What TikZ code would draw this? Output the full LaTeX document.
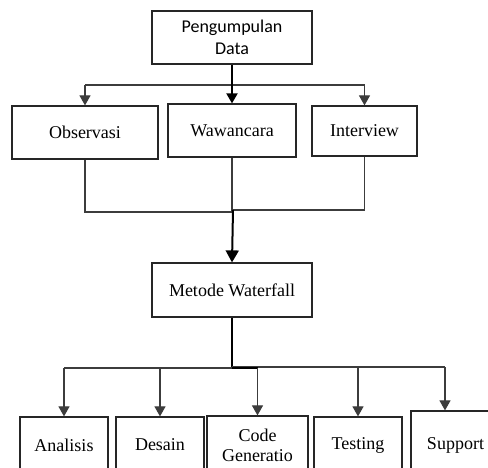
\documentclass[tikz,border=0pt]{standalone}
\usepackage{fontspec}
\setmainfont{Liberation Serif}
\newfontfamily\calib{Carlito}
\usetikzlibrary{arrows.meta}
\definecolor{linegray}{HTML}{3C3C3C}
\tikzset{
  boxnode/.style={draw=black!85, line width=1.2pt, rectangle, inner sep=0pt, align=center,
    font=\fontsize{18}{20}\selectfont},
  thinline/.style={draw=linegray, line width=1.1pt},
  thickline/.style={draw=black, line width=2pt},
  tip/.style={-{Triangle[width=11pt,length=10pt]}},
  bigtip/.style={-{Triangle[width=13pt,length=12pt]}}
}
\begin{document}
\begin{tikzpicture}[x=1pt,y=-1pt]
\useasboundingbox (0,0) rectangle (488,468);
\clip (0,0) rectangle (488,468);
\fill[white] (0,0) rectangle (488,468);

% top box
\node[boxnode, minimum width=160pt, minimum height=53pt,
      font=\calib\fontsize{18}{22}\selectfont] (pd) at (232,37.5) {Pengumpulan\\Data};

% data collection methods
\node[boxnode, minimum width=146pt, minimum height=53pt] (obs) at (85,132.5) {Observasi};
\node[boxnode, minimum width=128pt, minimum height=53pt] (waw) at (232,130.5) {Wawancara};
\node[boxnode, minimum width=105pt, minimum height=50pt] (int) at (364.5,131) {Interview};

% waterfall box
\node[boxnode, minimum width=160pt, minimum height=54pt] (met) at (232,290) {Metode Waterfall};

% waterfall phases (boxes run past the lower edge)
\node[boxnode, minimum width=88pt, minimum height=56pt] (ana) at (64,445) {Analisis};
\node[boxnode, minimum width=88pt, minimum height=56pt] (des) at (160,445) {Desain};
\node[boxnode, minimum width=101pt, minimum height=58pt] (cod) at (257.5,445) {Code\\Generatio};
\node[boxnode, minimum width=88pt, minimum height=56pt] (tes) at (358,445) {Testing};
\node[boxnode, minimum width=89pt, minimum height=68pt] (sup) at (455.5,445) {Support};

% split from the top box
\coordinate (j1) at (232,85);
\draw[thinline] (obs.north |- j1) -- (int.north |- j1);
\draw[thickline, tip] (pd.south) -- (waw.north);
\draw[thinline, tip] (obs.north |- j1) -- (obs.north);
\draw[thinline, tip] (int.north |- j1) -- (int.north);

% merge into the waterfall box
\coordinate (j2) at (232,212);
\coordinate (j2r) at (233,210);
\draw[thinline] (obs.south) |- (j2);
\draw[thinline] (waw.south) -- (waw.south |- j2);
\draw[thinline] (int.south) |- (j2r);
\draw[thickline, bigtip] (j2r) -- (met.north);

% split into the phases
\coordinate (j3) at (232,368);
\coordinate (j3r) at (232,367);
\coordinate (supx) at (445,367);
\draw[thickline] (met.south) -- (j3);
\draw[thinline] (j3) -- (ana.north |- j3);
\draw[thinline] (j3r) -- (supx);
\draw[thickline] (j3) -- (cod.north |- j3);
\draw[thinline, tip] (ana.north |- j3) -- (ana.north);
\draw[thinline, tip] (des.north |- j3) -- (des.north);
\draw[thinline, tip] (cod.north |- j3) -- (cod.north);
\draw[thinline, tip] (tes.north |- j3r) -- (tes.north);
\draw[thinline, tip] (supx) -- (supx |- sup.north);
\end{tikzpicture}
\end{document}
